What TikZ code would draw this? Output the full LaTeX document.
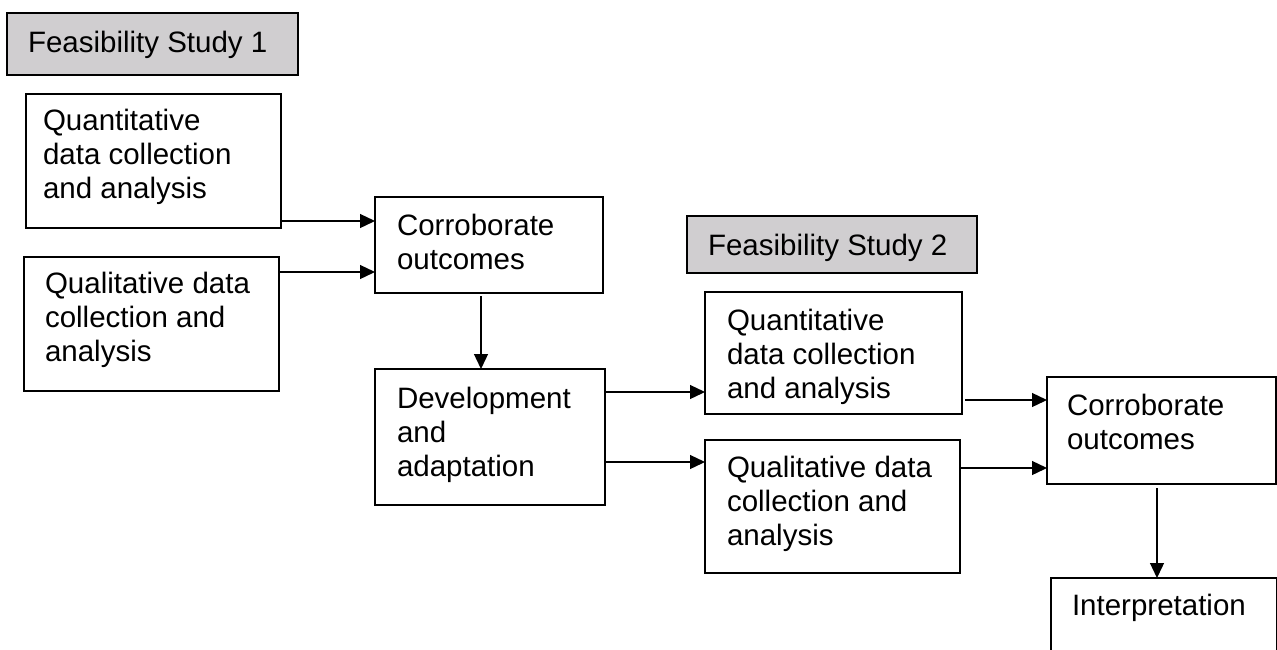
\documentclass[tikz,border=0pt]{standalone}
\usepackage{fontspec}
\setmainfont{Liberation Sans}
\usetikzlibrary{arrows.meta}
\definecolor{fsgray}{RGB}{208,206,208}
\newcommand{\mlines}[1]{\begin{tabular}[t]{@{}l@{}}#1\end{tabular}}
\begin{document}
\begin{tikzpicture}[x=1pt,y=-1pt,
  box/.style={draw=black, line width=1.7pt, inner sep=0pt, outer sep=0pt, anchor=north west, rectangle},
  fsbox/.style={box, fill=fsgray},
  txt/.style={anchor=base west, inner sep=0pt, outer sep=0pt, font=\fontsize{29.5}{34}\selectfont},
  arr/.style={line width=1.3pt, -{Triangle[length=15pt,width=14pt]}}]
\useasboundingbox (0,0) rectangle (1277,649);
\clip (0,0) rectangle (1277,649);
% boxes
\node[fsbox, minimum width=291pt, minimum height=62pt] (F1) at (7,13) {};
\node[box, minimum width=255pt, minimum height=134pt] (Q1) at (26,94) {};
\node[box, minimum width=255pt, minimum height=134pt] (L1) at (24,257) {};
\node[box, minimum width=228pt, minimum height=96pt] (C1) at (375,197) {};
\node[box, minimum width=230pt, minimum height=136pt] (D) at (375,369) {};
\node[fsbox, minimum width=290pt, minimum height=57pt] (F2) at (687,216) {};
\node[box, minimum width=257pt, minimum height=122pt] (Q2) at (705,292) {};
\node[box, minimum width=255pt, minimum height=133pt] (L2) at (705,440) {};
\node[box, minimum width=229pt, minimum height=107pt] (C2) at (1047,377) {};
\node[box, minimum width=226pt, minimum height=100pt] (I) at (1051,578) {};
% texts
\node[txt] (tF1) at (28,52) {Feasibility Study 1};
\node[txt] (tQ1) at (43,130) {\mlines{Quantitative\\data collection\\and analysis}};
\node[txt] (tL1) at (45,293) {\mlines{Qualitative data\\collection and\\analysis}};
\node[txt] (tC1) at (397,235) {\mlines{Corroborate\\outcomes}};
\node[txt] (tD) at (397,408) {\mlines{Development\\and\\adaptation}};
\node[txt] (tF2) at (708,255) {Feasibility Study 2};
\node[txt] (tQ2) at (727,330) {\mlines{Quantitative\\data collection\\and analysis}};
\node[txt] (tL2) at (727,477) {\mlines{Qualitative data\\collection and\\analysis}};
\node[txt] (tC2) at (1067,415) {\mlines{Corroborate\\outcomes}};
\node[txt] (tI) at (1072,615) {Interpretation};
% connectors
\draw[arr] (Q1.east |- 0,221) -- (C1.west |- 0,221);
\draw[arr] (L1.east |- 0,272) -- (C1.west |- 0,272);
\draw[arr, shorten <=3pt] (C1.south -| 481,0) -- (D.north -| 481,0);
\draw[arr] (D.east |- 0,392) -- (Q2.west |- 0,392);
\draw[arr] (D.east |- 0,462) -- (L2.west |- 0,462);
\draw[arr, shorten <=3pt] (Q2.east |- 0,400) -- (C2.west |- 0,400);
\draw[arr] (L2.east |- 0,468) -- (C2.west |- 0,468);
\draw[arr, shorten <=4pt] (C2.south -| 1157,0) -- (I.north -| 1157,0);
\end{tikzpicture}
\end{document}
